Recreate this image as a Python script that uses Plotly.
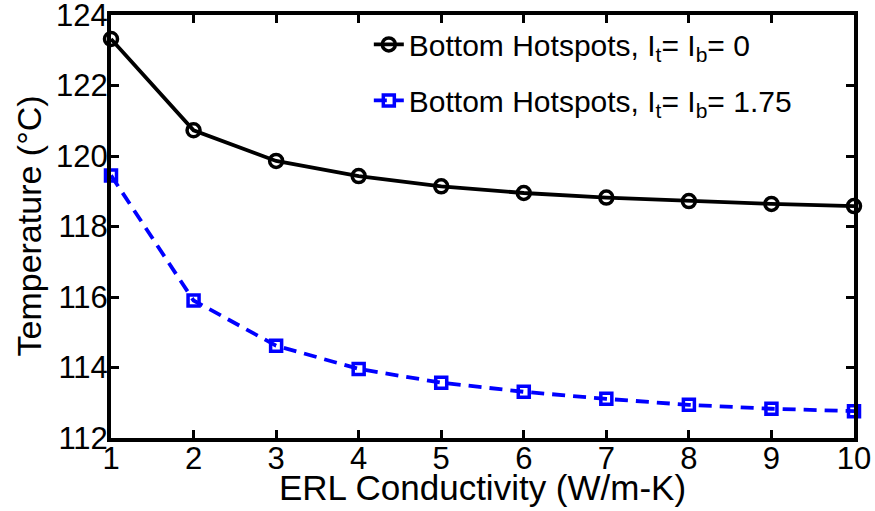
import plotly.graph_objects as go

conductivity = [1, 2, 3, 4, 5, 6, 7, 8, 9, 10]
temp_i0 = [123.32, 120.73, 119.86, 119.43, 119.14, 118.95, 118.82, 118.72, 118.64, 118.58]
temp_i175 = [119.45, 115.90, 114.62, 113.96, 113.57, 113.31, 113.11, 112.94, 112.83, 112.76]
name_i0 = "Bottom Hotspots, I<sub>t</sub>= I<sub>b</sub>= 0"
name_i175 = "Bottom Hotspots, I<sub>t</sub>= I<sub>b</sub>= 1.75"
x_ticks = [1, 2, 3, 4, 5, 6, 7, 8, 9, 10]
y_ticks = [112, 114, 116, 118, 120, 122, 124]
x_title = "ERL Conductivity (W/m-K)"
y_title = "Temperature (\u00b0C)"

FONT = "Arial, Liberation Sans, Helvetica, sans-serif"

fig = go.Figure()
fig.add_trace(go.Scatter(
    x=conductivity, y=temp_i0, name=name_i0, mode="lines+markers", legendgroup="a",
    line=dict(color="black", width=3.8),
    marker=dict(symbol="circle-open", size=13, color="black", line=dict(width=3.5)),
    cliponaxis=False,
))
fig.add_trace(go.Scatter(
    x=conductivity, y=temp_i175, name=name_i175, mode="lines+markers", legendgroup="b",
    line=dict(color="#0000ff", width=3.8, dash="13px,8px"),
    marker=dict(symbol="square-open", size=11, color="#0000ff", line=dict(width=3.5)),
    cliponaxis=False,
))

axis_common = dict(
    showline=True, linecolor="black", linewidth=4, mirror="ticks",
    ticks="inside", ticklen=8, tickwidth=3, tickcolor="black",
    showgrid=False, zeroline=False, automargin=False,
    ticklabeloverflow="allow",
    tickfont=dict(family=FONT, size=31, color="black"),
)

fig.update_xaxes(range=[1, 10], tickvals=x_ticks, ticklabelstandoff=-10, **axis_common)
fig.update_yaxes(range=[112, 124], tickvals=y_ticks, ticklabelstandoff=-7, **axis_common)

fig.add_annotation(
    text=x_title, xref="paper", yref="paper", x=0.5, y=-0.116,
    xanchor="center", yanchor="middle", showarrow=False,
    font=dict(family=FONT, size=35, color="black"),
)
fig.add_annotation(
    text=y_title, xref="paper", yref="paper", x=-0.1117, y=0.5,
    xanchor="center", yanchor="middle", showarrow=False, textangle=-90,
    font=dict(family=FONT, size=34, color="black"),
)

fig.update_layout(
    width=875, height=511,
    margin=dict(l=111, r=21, t=15, b=73),
    plot_bgcolor="white", paper_bgcolor="white",
    font=dict(family=FONT, color="black"),
    legend=dict(
        x=0.347, y=0.992, xanchor="left", yanchor="top",
        bgcolor="rgba(0,0,0,0)", borderwidth=0,
        font=dict(family=FONT, size=30, color="black"),
        itemwidth=30, tracegroupgap=14,
    ),
)

fig.write_html("out.html", config={"displayModeBar": False},
               post_script="document.body.style.margin='0';")
